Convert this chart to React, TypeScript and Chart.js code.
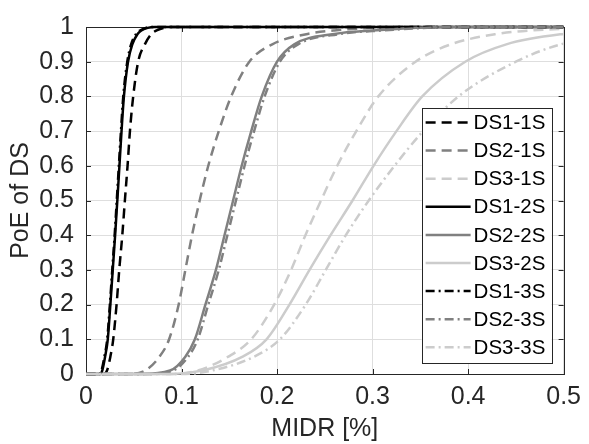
import React, { useEffect, useRef } from "react";
import { Chart, registerables } from "chart.js";
Chart.register(...registerables);

const PROB = [0, 0.01, 0.05, 0.1, 0.2, 0.3, 0.4, 0.5, 0.6, 0.7, 0.8, 0.9, 0.95, 0.98, 0.99, 1];

const DS1_1S = [0.019, 0.022, 0.0255, 0.0285, 0.032, 0.0348, 0.038, 0.0407, 0.0435, 0.046, 0.0494, 0.0546, 0.0616, 0.0686, 0.074, 0.09];
const DS2_1S = [0.045, 0.062, 0.077, 0.087, 0.097, 0.104, 0.111, 0.119, 0.128, 0.139, 0.152, 0.171, 0.195, 0.232, 0.26, 0.33];
const DS3_1S = [0.09, 0.117, 0.149, 0.173, 0.197, 0.2147, 0.2297, 0.246, 0.263, 0.283, 0.306, 0.345, 0.382, 0.43, 0.465, 0.6];
const DS1_2S = [0.0145, 0.017, 0.02, 0.0228, 0.0255, 0.028, 0.0305, 0.0328, 0.035, 0.0372, 0.0397, 0.044, 0.0485, 0.054, 0.058, 0.072];
const DS2_2S = [0.058, 0.088, 0.104, 0.114, 0.125, 0.136, 0.145, 0.154, 0.163, 0.173, 0.184, 0.2, 0.218, 0.26, 0.3, 0.38];
const DS3_2S = [0.09, 0.122, 0.164, 0.189, 0.213, 0.234, 0.256, 0.279, 0.301, 0.325, 0.352, 0.397, 0.44, 0.5, 0.55, 0.75];
const DS1_3S = [0.0135, 0.0162, 0.0193, 0.0222, 0.025, 0.0275, 0.03, 0.0322, 0.0344, 0.0366, 0.039, 0.0432, 0.0472, 0.0525, 0.0565, 0.07];
const DS2_3S = [0.061, 0.091, 0.107, 0.117, 0.128, 0.139, 0.148, 0.157, 0.166, 0.176, 0.187, 0.203, 0.222, 0.266, 0.31, 0.39];
const DS3_3S = [0.1, 0.132, 0.176, 0.203, 0.23, 0.251, 0.272, 0.296, 0.323, 0.353, 0.39, 0.45, 0.497, 0.56, 0.61, 0.85];

const LABELS = ["DS1-1S", "DS2-1S", "DS3-1S", "DS1-2S", "DS2-2S", "DS3-2S", "DS1-3S", "DS2-3S", "DS3-3S"];
const X_TICKS = [0, 0.1, 0.2, 0.3, 0.4, 0.5];
const Y_TICKS = [0, 0.1, 0.2, 0.3, 0.4, 0.5, 0.6, 0.7, 0.8, 0.9, 1];
const X_TITLE = "MIDR [%]";
const Y_TITLE = "PoE of DS";

const BLACK = "#000000";
const DARK = "#808080";
const LIGHT = "#cccccc";
const DASH = [10, 6];
const DASHDOT = [9, 4, 2, 4];
const FONT = "'Liberation Sans', Arial, Helvetica, sans-serif";
const TEXT = "#262626";

export default function App() {
  const ref = useRef<HTMLCanvasElement>(null);

  useEffect(() => {
    document.body.style.margin = "0";
    const series = [DS1_1S, DS2_1S, DS3_1S, DS1_2S, DS2_2S, DS3_2S, DS1_3S, DS2_3S, DS3_3S];
    const colors = [BLACK, DARK, LIGHT, BLACK, DARK, LIGHT, BLACK, DARK, LIGHT];
    const dashes = [DASH, DASH, DASH, [], [], [], DASHDOT, DASHDOT, DASHDOT];

    const datasets = series.map((xs, i) => {
      const pts = [{ x: 0, y: 0 }, ...xs.map((x, j) => ({ x, y: PROB[j] }))];
      if (xs[xs.length - 1] < 0.5) pts.push({ x: 0.5, y: 1 });
      return {
        label: LABELS[i],
        data: pts,
        borderColor: colors[i],
        backgroundColor: colors[i],
        borderWidth: 2.5,
        borderDash: dashes[i],
        pointRadius: 0,
        fill: false,
        cubicInterpolationMode: "monotone" as const,
        order: series.length - i,
        clip: { left: 0, right: 0, top: 2, bottom: 2 },
      };
    });

    const framePlugin = {
      id: "frame",
      beforeDatasetsDraw(chart: any) {
        const { ctx, chartArea: a, scales } = chart;
        ctx.save();
        ctx.strokeStyle = TEXT;
        ctx.lineWidth = 1;
        ctx.beginPath();
        for (const v of X_TICKS) {
          const px = Math.round(scales.x.getPixelForValue(v)) + 0.5;
          ctx.moveTo(px, a.bottom);
          ctx.lineTo(px, a.bottom - 5);
          ctx.moveTo(px, a.top);
          ctx.lineTo(px, a.top + 5);
        }
        for (const v of Y_TICKS) {
          const py = Math.round(scales.y.getPixelForValue(v)) + 0.5;
          ctx.moveTo(a.left, py);
          ctx.lineTo(a.left + 5, py);
          ctx.moveTo(a.right, py);
          ctx.lineTo(a.right - 5, py);
        }
        ctx.stroke();
        ctx.strokeRect(Math.round(a.left) + 0.5, Math.round(a.top) + 0.5, Math.round(a.right - a.left), Math.round(a.bottom - a.top));
        ctx.restore();
      },
      afterDatasetsDraw(chart: any) {
        const { ctx, chartArea: a } = chart;
        const boxW = 130;
        const rowH = 28.1;
        const boxH = 255;
        const boxR = a.right - 12;
        const boxB = a.bottom - 11;
        const boxL = boxR - boxW;
        const boxT = boxB - boxH;
        ctx.save();
        ctx.fillStyle = "#ffffff";
        ctx.fillRect(boxL, boxT, boxW, boxH);
        ctx.strokeStyle = TEXT;
        ctx.lineWidth = 1;
        ctx.strokeRect(Math.round(boxL) + 0.5, Math.round(boxT) + 0.5, boxW, boxH);
        ctx.font = `20.5px ${FONT}`;
        ctx.textBaseline = "middle";
        ctx.textAlign = "left";
        chart.data.datasets.forEach((ds: any, i: number) => {
          const cy = boxT + 14.5 + i * rowH;
          ctx.beginPath();
          ctx.setLineDash(ds.borderDash || []);
          ctx.strokeStyle = ds.borderColor;
          ctx.lineWidth = ds.borderWidth;
          ctx.moveTo(boxL + 4, cy);
          ctx.lineTo(boxL + 49, cy);
          ctx.stroke();
          ctx.setLineDash([]);
          ctx.fillStyle = "#000000";
          ctx.fillText(ds.label, boxL + 52, cy + 1);
        });
        ctx.restore();
      },
    };

    const chart = new Chart(ref.current!, {
      type: "line",
      data: { datasets },
      plugins: [framePlugin],
      options: {
        animation: false,
        responsive: false,
        layout: { padding: { top: 16, right: 24, left: 0, bottom: 0 } },
        plugins: { legend: { display: false }, tooltip: { enabled: false } },
        scales: {
          x: {
            type: "linear",
            min: 0,
            max: 0.5,
            afterBuildTicks: (s: any) => {
              s.ticks = X_TICKS.map((v) => ({ value: v }));
            },
            afterFit: (s: any) => {
              s.height = 70;
            },
            ticks: {
              color: TEXT,
              font: { family: FONT, size: 25 },
              padding: 8,
              maxRotation: 0,
              callback: (v: any) => String(v),
            },
            grid: { color: "#dedede", drawTicks: false, lineWidth: 1 },
            border: { display: false },
            title: { display: true, text: X_TITLE, color: TEXT, font: { family: FONT, size: 25 }, padding: { top: 0, bottom: 0 } },
          },
          y: {
            type: "linear",
            min: 0,
            max: 1,
            afterBuildTicks: (s: any) => {
              s.ticks = Y_TICKS.map((v) => ({ value: v }));
            },
            afterFit: (s: any) => {
              s.width = 86;
            },
            ticks: {
              color: TEXT,
              font: { family: FONT, size: 25 },
              padding: 12,
              callback: (v: any) => String(v),
            },
            grid: { color: "#dedede", drawTicks: false, lineWidth: 1 },
            border: { display: false },
            title: { display: true, text: Y_TITLE, color: TEXT, font: { family: FONT, size: 25 }, padding: { top: 6, bottom: 0 } },
          },
        },
      },
    });
    return () => chart.destroy();
  }, []);

  return (
    <div style={{ width: 589, height: 444 }}>
      <canvas ref={ref} width={589} height={444} />
    </div>
  );
}
